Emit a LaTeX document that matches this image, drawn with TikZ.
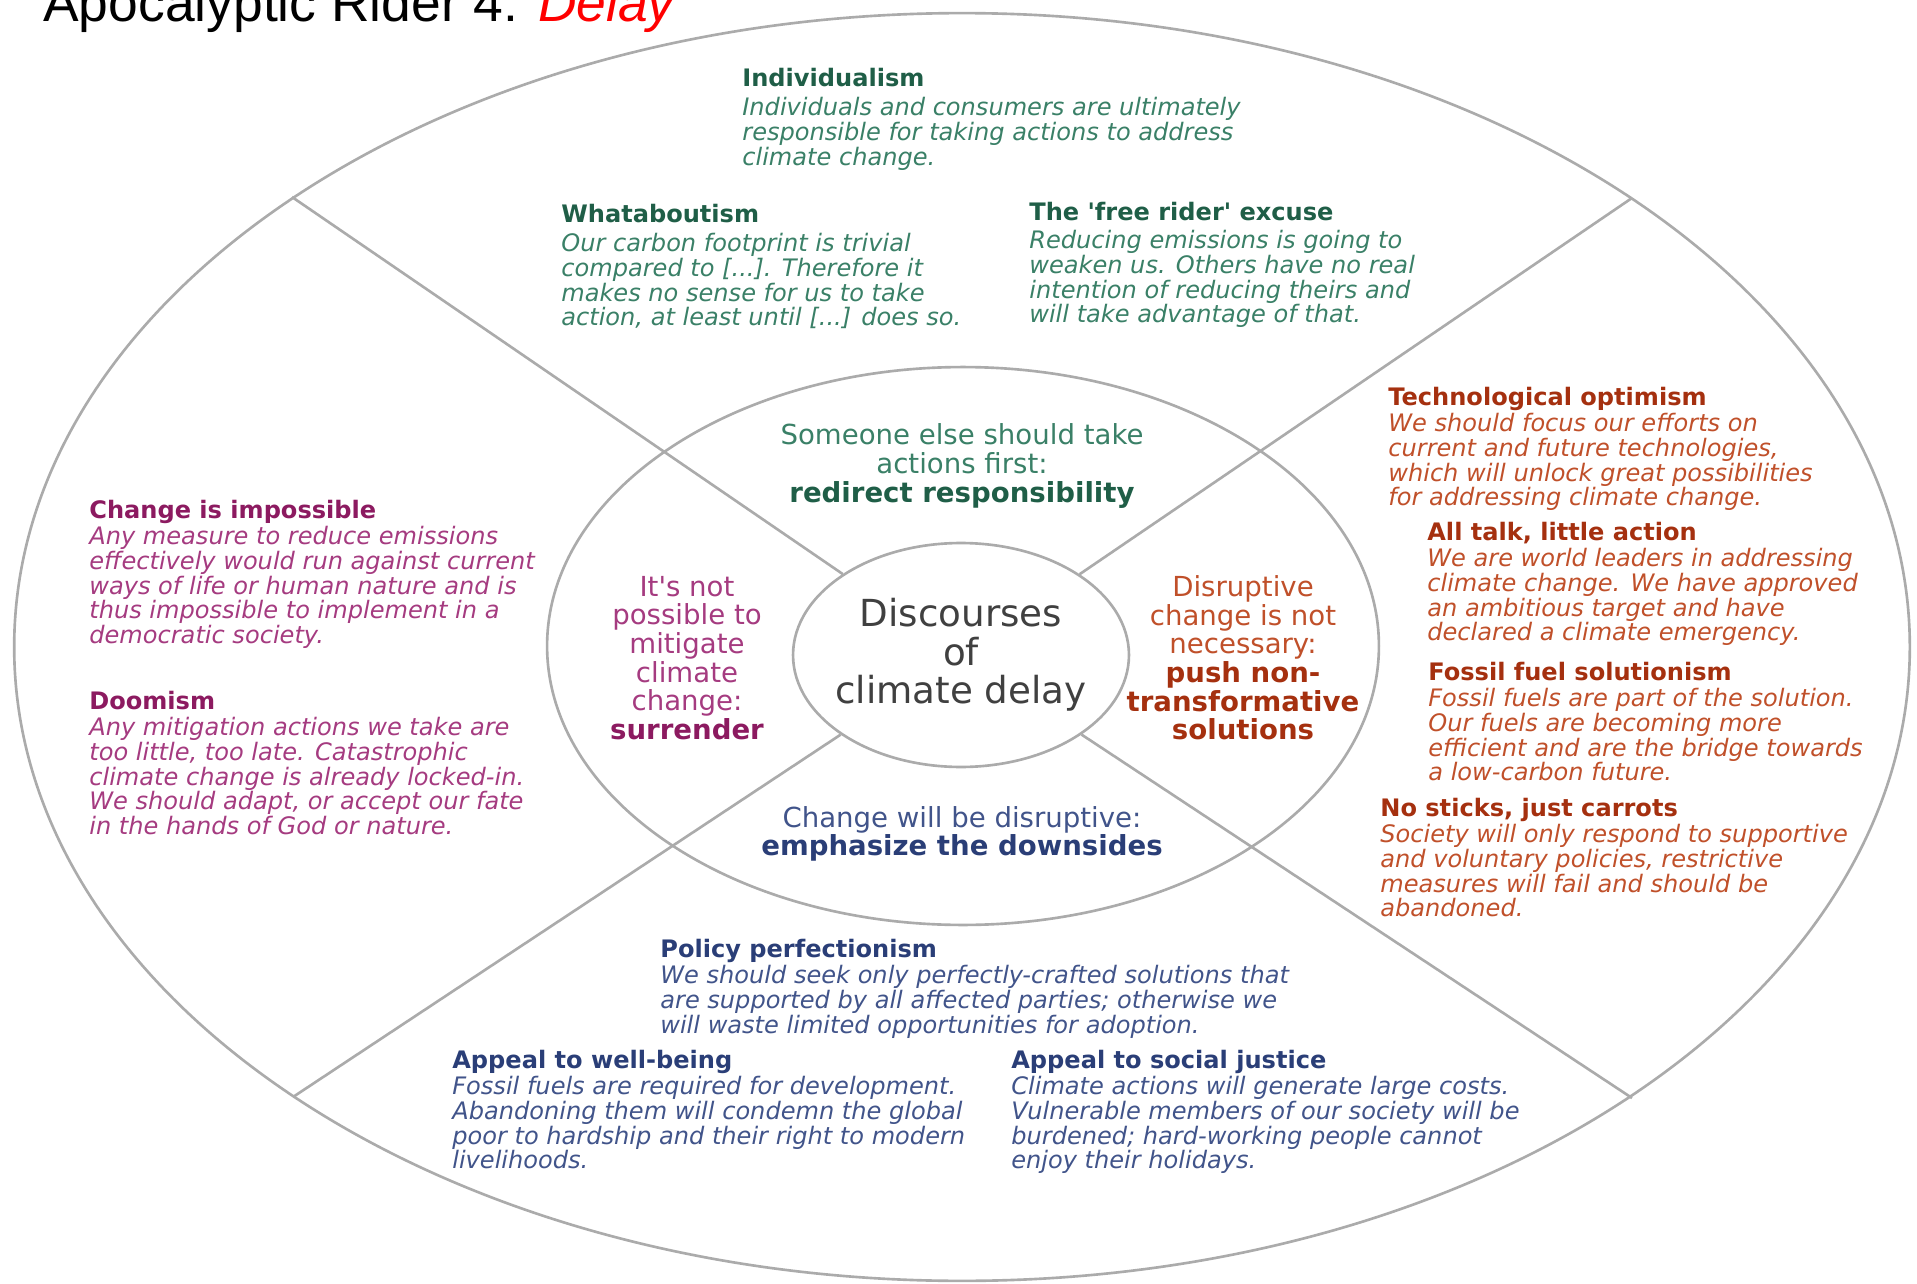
\documentclass[tikz,border=0pt]{standalone}
\usepackage{fontspec}
\setmainfont{DejaVu Sans}
\newfontfamily\titlefont{Liberation Sans}
\usetikzlibrary{positioning,shapes.geometric}

\definecolor{grnh}{HTML}{1F5E47}
\definecolor{grnt}{HTML}{3A8067}
\definecolor{purh}{HTML}{8C1A60}
\definecolor{purt}{HTML}{A53B80}
\definecolor{redh}{HTML}{A5300F}
\definecolor{redt}{HTML}{C0502A}
\definecolor{bluh}{HTML}{2A3E77}
\definecolor{blut}{HTML}{41548A}
\definecolor{ringc}{HTML}{ABABAB}
\definecolor{hubc}{HTML}{404040}

\tikzset{
  ring/.style={draw=ringc, line width=1.5pt},
  head/.style={anchor=base west, inner sep=0pt, text height=10pt, text depth=3pt,
    font=\fontsize{13.7pt}{14pt}\selectfont\bfseries},
  body/.style={inner sep=0pt, align=left,
    font=\fontsize{13.7pt}{14.05pt}\selectfont\itshape},
  mid/.style={inner sep=0pt, align=center,
    font=\fontsize{15.7pt}{16.3pt}\selectfont},
}

\begin{document}
\begin{tikzpicture}[x=0.02cm, y=-0.02cm]
      \useasboundingbox (0,0) rectangle (1917,1284);

      % rings
      \draw[ring] (962,647) ellipse [x radius=18.96cm, y radius=12.68cm];
      \draw[ring] (963,646) ellipse [x radius=8.32cm, y radius=5.58cm];
      \node[ring, ellipse, inner xsep=-4pt, inner ysep=0pt, minimum width=6.72cm, minimum height=4.48cm,
        align=center, text=hubc, font=\fontsize{21.2pt}{21.9pt}\selectfont] (hub) at (961,655)
        {Discourses\\of\\climate delay};

      \coordinate (nw) at (292,197);
      \coordinate (ne) at (1632,198);
      \coordinate (sw) at (293,1097);
      \coordinate (se) at (1632,1098);
      \draw[ring] (nw)--(hub);
      \draw[ring] (ne)--(hub);
      \draw[ring] (sw)--(hub);
      \draw[ring] (se)--(hub);

      \node[anchor=base west, inner sep=0pt, font=\titlefont\fontsize{30.4pt}{32pt}\selectfont] (title) at (43,22)
        {Apocalyptic Rider 4: \textcolor{red}{\itshape Delay}};

      % middle ring
      \node[mid, text=grnt] (redir) at (962,466)
        {Someone else should take\\actions first:\\\textbf{\color{grnh}redirect responsibility}};
      \node[mid, text=purt] (surr) at (687,658)
        {It\textquotesingle s not\\possible to\\mitigate\\climate\\change:\\\textbf{\color{purh}surrender}};
      \node[mid, text=redt] (push) at (1243,658)
        {Disruptive\\change is not\\necessary:\\\textbf{\color{redh}push non-}\\\textbf{\color{redh}transformative}\\\textbf{\color{redh}solutions}};
      \node[mid, text=blut] (down) at (962,834)
        {Change will be disruptive:\\\textbf{\color{bluh}emphasize the downsides}};

      % green
      \node[head, text=grnh] (indiv) at (742,87) {Individualism};
      \node[body, text=grnt, below right=2.5pt and 0pt of indiv.south west] (indivt)
        {Individuals and consumers are ultimately\\responsible for taking actions to address\\climate change.};
      \node[head, text=grnh] (what) at (561,223) {Whataboutism};
      \node[body, text=grnt, below right=2.5pt and 0pt of what.south west] (whatt)
        {Our carbon footprint is trivial\\compared to [...]. Therefore it\\makes no sense for us to take\\action, at least until [...] does so.};
      \node[head, text=grnh] (free) at (1029,221) {The \textquotesingle free rider\textquotesingle{} excuse};
      \node[body, text=grnt, below right=2pt and 0pt of free.south west] (freet)
        {Reducing emissions is going to\\weaken us. Others have no real\\intention of reducing theirs and\\will take advantage of that.};

      % purple
      \node[head, text=purh] (imp) at (89,518) {Change is impossible};
      \node[body, text=purt, below right=1.5pt and 0pt of imp.south west] (impt)
        {Any measure to reduce emissions\\effectively would run against current\\ways of life or human nature and is\\thus impossible to implement in a\\democratic society.};
      \node[head, text=purh] (doom) at (89,709) {Doomism};
      \node[body, text=purt, below right=1.5pt and 0pt of doom.south west] (doomt)
        {Any mitigation actions we take are\\too little, too late. Catastrophic\\climate change is already locked-in.\\We should adapt, or accept our fate\\in the hands of God or nature.};

      % red
      \node[head, text=redh] (tech) at (1388,405) {Technological optimism};
      \node[body, text=redt, below right=1.5pt and 0pt of tech.south west] (techt)
        {We should focus our efforts on\\current and future technologies,\\which will unlock great possibilities\\for addressing climate change.};
      \node[head, text=redh] (talk) at (1427,540) {All talk, little action};
      \node[body, text=redt, below right=1.5pt and 0pt of talk.south west] (talkt)
        {We are world leaders in addressing\\climate change. We have approved\\an ambitious target and have\\declared a climate emergency.};
      \node[head, text=redh] (fuel) at (1428,680) {Fossil fuel solutionism};
      \node[body, text=redt, below right=1.5pt and 0pt of fuel.south west] (fuelt)
        {Fossil fuels are part of the solution.\\Our fuels are becoming more\\efficient and are the bridge towards\\a low-carbon future.};
      \node[head, text=redh] (stick) at (1380,816) {No sticks, just carrots};
      \node[body, text=redt, below right=1.5pt and 0pt of stick.south west] (stickt)
        {Society will only respond to supportive\\and voluntary policies, restrictive\\measures will fail and should be\\abandoned.};

      % blue
      \node[head, text=bluh] (pol) at (660,957) {Policy perfectionism};
      \node[body, text=blut, below right=1.5pt and 0pt of pol.south west] (polt)
        {We should seek only perfectly-crafted solutions that\\are supported by all affected parties; otherwise we\\will waste limited opportunities for adoption.};
      \node[head, text=bluh] (well) at (452,1068) {Appeal to well-being};
      \node[body, text=blut, below right=1.5pt and 0pt of well.south west] (wellt)
        {Fossil fuels are required for development.\\Abandoning them will condemn the global\\poor to hardship and their right to modern\\livelihoods.};
      \node[head, text=bluh] (just) at (1011,1068) {Appeal to social justice};
      \node[body, text=blut, below right=1.5pt and 0pt of just.south west] (justt)
        {Climate actions will generate large costs.\\Vulnerable members of our society will be\\burdened; hard-working people cannot\\enjoy their holidays.};
\end{tikzpicture}
\end{document}
